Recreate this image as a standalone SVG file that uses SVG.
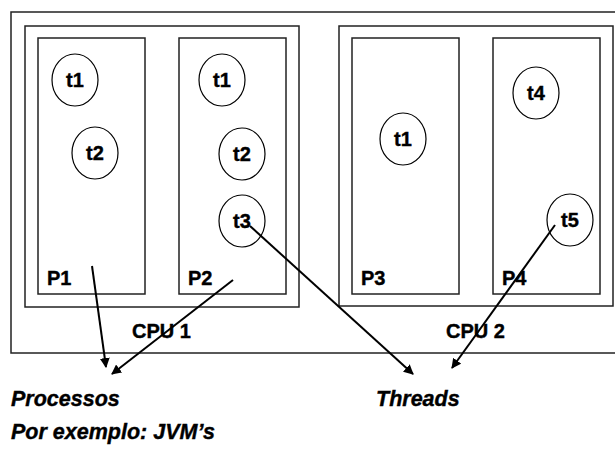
<svg xmlns="http://www.w3.org/2000/svg" width="615" height="450" viewBox="0 0 615 450">
<defs>
<style>
.box{fill:none;stroke:#222;stroke-width:1.5}
.th{fill:#fff;stroke:#000;stroke-width:1.2}
.lb{font-family:"Liberation Sans",Arial,sans-serif;font-weight:bold;font-size:20px;fill:#000;stroke:#000;stroke-width:0.4}
.it{font-family:"Liberation Sans",Arial,sans-serif;font-weight:bold;font-style:italic;font-size:21.5px;fill:#000;stroke:#000;stroke-width:0.4}
.ar{stroke:#000;stroke-width:2;fill:none;marker-end:url(#ah)}
</style>
<marker id="ah" viewBox="0 0 10 10" refX="9" refY="5" markerWidth="5" markerHeight="5" orient="auto" markerUnits="strokeWidth">
<path d="M0,0 L10,5 L0,10 z" fill="#000"/>
</marker>
</defs>
<rect width="615" height="450" fill="#fff"/>
<g id="outer"><rect class="box" x="11" y="12" width="620" height="341"/></g>
<g id="cpu1">
<rect class="box" x="25" y="26" width="274" height="281"/>
<text class="lb" x="132" y="338">CPU 1</text>
</g>
<g id="cpu2">
<rect class="box" x="339" y="26" width="274" height="280"/>
<text class="lb" x="446" y="338">CPU 2</text>
</g>
<g id="p1">
<rect class="box" x="38" y="38" width="107" height="256"/>
<text class="lb" x="47" y="285">P1</text>
</g>
<g id="p2">
<rect class="box" x="179" y="38" width="107" height="256"/>
<text class="lb" x="188" y="285">P2</text>
</g>
<g id="p3">
<rect class="box" x="352" y="38" width="107" height="256"/>
<text class="lb" x="361" y="285">P3</text>
</g>
<g id="p4">
<rect class="box" x="493" y="38" width="107" height="256"/>
<text class="lb" x="502" y="285">P4</text>
</g>
<g id="p1t1"><ellipse class="th" cx="75" cy="80" rx="23" ry="26"/><text class="lb" x="75" y="87" text-anchor="middle">t1</text></g>
<g id="p1t2"><ellipse class="th" cx="95" cy="153" rx="23" ry="26"/><text class="lb" x="95" y="160" text-anchor="middle">t2</text></g>
<g id="p2t1"><ellipse class="th" cx="222" cy="80" rx="23" ry="26"/><text class="lb" x="222" y="87" text-anchor="middle">t1</text></g>
<g id="p2t2"><ellipse class="th" cx="242" cy="154" rx="23" ry="26"/><text class="lb" x="242" y="161" text-anchor="middle">t2</text></g>
<g id="p2t3"><ellipse class="th" cx="242" cy="221" rx="23" ry="26"/><text class="lb" x="242" y="228" text-anchor="middle">t3</text></g>
<g id="p3t1"><ellipse class="th" cx="403" cy="139" rx="23" ry="26"/><text class="lb" x="403" y="146" text-anchor="middle">t1</text></g>
<g id="p4t4"><ellipse class="th" cx="536" cy="93" rx="23" ry="26"/><text class="lb" x="536" y="100" text-anchor="middle">t4</text></g>
<g id="p4t5"><ellipse class="th" cx="570" cy="220" rx="23" ry="26"/><text class="lb" x="570" y="227" text-anchor="middle">t5</text></g>
<g id="connectors">
<line class="ar" x1="92" y1="266" x2="106" y2="367"/>
<line class="ar" x1="233" y1="280" x2="112" y2="374"/>
<line class="ar" x1="250" y1="226" x2="413" y2="374"/>
<line class="ar" x1="555" y1="225" x2="452" y2="368"/>
</g>
<g id="labels">
<text class="it" x="11" y="406">Processos</text>
<text class="it" x="376" y="406">Threads</text>
<text class="it" x="11" y="439">Por exemplo: JVM’s</text>
</g>
</svg>
